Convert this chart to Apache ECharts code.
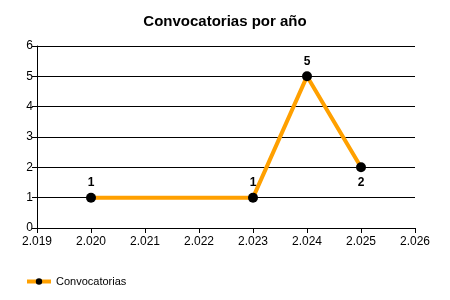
<!DOCTYPE html>
<html><head><meta charset="utf-8">
<script src="https://cdn.jsdelivr.net/npm/echarts@6/dist/echarts.min.js"></script>
<style>html,body{margin:0;padding:0;background:#fff}#c{width:450px;height:300px}</style>
</head><body><div id="c"></div>
<script>
const years = [2020, 2023, 2024, 2025];
const counts = [1, 1, 5, 2];
const labelPos = ['top', 'top', 'top', 'bottom'];
const seriesName = 'Convocatorias';
const titleText = 'Convocatorias por año';

const fmt = v => String(v).replace(/(\d)(\d{3})$/, '$1.$2');
const chart = echarts.init(document.getElementById('c'));
chart.setOption({
  animation: false,
  backgroundColor: '#fff',
  title: { text: titleText, left: 'center', top: 9,
    textStyle: { fontFamily: 'Liberation Sans', fontSize: 15, fontWeight: 'bold', color: '#000' } },
  grid: { left: 37, right: 35, top: 46, bottom: 72 },
  xAxis: { type: 'value', min: 2019, max: 2026, interval: 1,
    axisLine: { show: true, lineStyle: { color: '#000', width: 1 } },
    axisTick: { show: true, length: 5, lineStyle: { color: '#000' } },
    splitLine: { show: false },
    axisLabel: { formatter: fmt, color: '#000', fontFamily: 'Liberation Sans', fontSize: 12, margin: 8 } },
  yAxis: { type: 'value', min: 0, max: 6, interval: 1,
    axisLine: { show: true, lineStyle: { color: '#000', width: 1 } },
    axisTick: { show: true, length: 5, lineStyle: { color: '#000' } },
    splitLine: { show: true, lineStyle: { color: '#000', width: 1 } },
    axisLabel: { color: '#000', fontFamily: 'Liberation Sans', fontSize: 12, margin: 4 } },
  legend: { left: 20, top: 271, itemWidth: 24, itemHeight: 8, itemGap: 5,
    lineStyle: { width: 4, color: '#FFA000' },
    textStyle: { fontFamily: 'Liberation Sans', fontSize: 11, color: '#000' },
    data: [seriesName] },
  series: [{
    name: seriesName, type: 'line',
    data: years.map((y, i) => ({ value: [y, counts[i]],
      label: { position: labelPos[i] } })),
    symbol: 'circle', symbolSize: 10,
    itemStyle: { color: '#000' },
    lineStyle: { color: '#FFA000', width: 4 },
    label: { show: true, color: '#000', fontWeight: 'bold', fontFamily: 'Liberation Sans', fontSize: 12, distance: 4 }
  }]
});
</script></body></html>
